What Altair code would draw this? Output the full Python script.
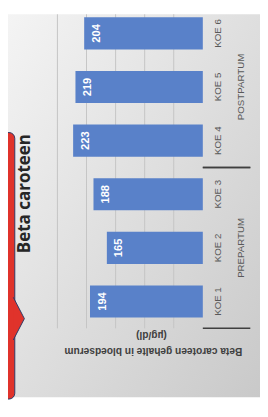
import altair as alt
import pandas as pd

# ---- data ----
categories = ["KOE 1", "KOE 2", "KOE 3", "KOE 4", "KOE 5", "KOE 6"]
values = [194, 165, 188, 223, 219, 204]
phases = ["PREPARTUM", "PREPARTUM", "PREPARTUM", "POSTPARTUM", "POSTPARTUM", "POSTPARTUM"]
gridlines = [50, 100, 150, 200, 250]
title_text = "Beta caroteen"
axis_title_lines = ["Beta caroteen gehalte in bloedserum", "(µg/dl)"]

df = pd.DataFrame({
    "cat": categories,
    "value": values,
    "phase": phases,
    "idx": list(range(1, len(categories) + 1)),
})
grid_df = pd.DataFrame({"g": gridlines})
one = pd.DataFrame({"d": [0]})

W, H = 150, 324
STEP = 55.33
x_scale = alt.Scale(domain=[0, 250], reverse=True, nice=False, zero=True)
y_scale = alt.Scale(domain=[0.5, 0.5 + H / STEP], nice=False, zero=False)

RED = "#e0332b"
NAVY = "#2b3a67"
FONT = "Liberation Sans"

bg = alt.Chart(one).mark_rect(
    color=alt.LinearGradient(
        gradient="linear",
        stops=[alt.GradientStop(color="#f4f4f4", offset=0),
               alt.GradientStop(color="#c9c9c9", offset=1)],
        x1=0, y1=0, x2=1, y2=1,
    )
).encode(x=alt.value(-51), x2=alt.value(209), y=alt.value(0), y2=alt.value(395))

red = alt.Chart(one).mark_rect(
    color=RED, stroke=NAVY, strokeWidth=1, cornerRadius=6
).encode(x=alt.value(-62), x2=alt.value(-44), y=alt.value(122), y2=alt.value(397))

notch = alt.Chart(one).mark_point(
    shape="M-0.07,-1L0.45,0L-0.07,1", filled=True, fill=RED, stroke=NAVY,
    strokeWidth=1, size=1936, opacity=1, fillOpacity=1, strokeOpacity=1
).encode(x=alt.value(-44), y=alt.value(314))

title = alt.Chart(one).mark_text(
    angle=270, fontSize=17.5, fontWeight="bold", font="Open Sans", color="#262626",
    align="center", baseline="middle"
).encode(x=alt.value(-33), y=alt.value(185), text=alt.value(title_text))

grid = alt.Chart(grid_df).mark_rule(color="#c4c4c4", strokeWidth=1).encode(
    x=alt.X("g:Q", scale=x_scale, axis=None), y=alt.value(0), y2=alt.value(H)
)

bars = alt.Chart(df).transform_calculate(
    y0="datum.idx - 0.3", y1="datum.idx + 0.3", zero="0"
).mark_rect(color="#5981c9").encode(
    x=alt.X("value:Q", scale=x_scale, axis=None),
    x2="zero:Q",
    y=alt.Y("y0:Q", scale=y_scale,
            axis=alt.Axis(orient="right", labels=False, ticks=False, grid=False,
                          domain=True, domainColor="#3f3f3f", domainWidth=1.5,
                          title=None, zindex=1)),
    y2="y1:Q",
)

bar_labels = alt.Chart(df).mark_text(
    angle=270, dy=13, baseline="middle", align="center", color="white",
    fontWeight="bold", fontSize=11.5, font=FONT
).encode(
    x=alt.X("value:Q", scale=x_scale, axis=None),
    y=alt.Y("idx:Q", scale=y_scale, axis=None),
    text="value:Q",
)

cat_labels = alt.Chart(df).mark_text(
    angle=270, baseline="middle", align="center", color="#595959", fontSize=10, font=FONT
).encode(
    x=alt.value(166),
    y=alt.Y("idx:Q", scale=y_scale, axis=None),
    text="cat:N",
)

group_labels = alt.Chart(df).transform_aggregate(
    c="mean(idx)", groupby=["phase"]
).mark_text(
    angle=270, baseline="middle", align="center", color="#595959", fontSize=10, font=FONT
).encode(
    x=alt.value(190),
    y=alt.Y("c:Q", scale=y_scale, axis=None),
    text="phase:N",
)

dividers = alt.Chart(df).transform_aggregate(
    lo="min(idx)", hi="max(idx)", groupby=["phase"]
).transform_fold(["lo", "hi"]).transform_calculate(
    b="datum.value + (datum.key == 'lo' ? -0.5 : 0.5)"
).mark_rule(color="#3f3f3f", strokeWidth=1.5).encode(
    y=alt.Y("b:Q", scale=y_scale, axis=None),
    x=alt.value(W),
    x2=alt.value(199),
)

ax_title1 = alt.Chart(one).mark_text(
    angle=180, fontSize=10.5, fontWeight="bold", font=FONT, color="#404040",
    align="center", baseline="middle"
).encode(x=alt.value(99), y=alt.value(347), text=alt.value(axis_title_lines[0]))

ax_title2 = alt.Chart(one).mark_text(
    angle=180, fontSize=10.5, fontWeight="bold", font=FONT, color="#404040",
    align="center", baseline="middle"
).encode(x=alt.value(97), y=alt.value(331), text=alt.value(axis_title_lines[1]))

chart = alt.layer(
    bg, red, notch, title, grid, bars, bar_labels, cat_labels, group_labels,
    dividers, ax_title1, ax_title2
).resolve_scale(x="shared", y="shared").properties(
    width=W, height=H,
    padding={"left": 51, "top": 0, "right": 59, "bottom": 85},
    autosize=alt.AutoSizeParams(type="none"),
    background="white",
).configure_view(strokeWidth=0)

chart.save("out.html", embed_options={"renderer": "svg", "actions": False})
